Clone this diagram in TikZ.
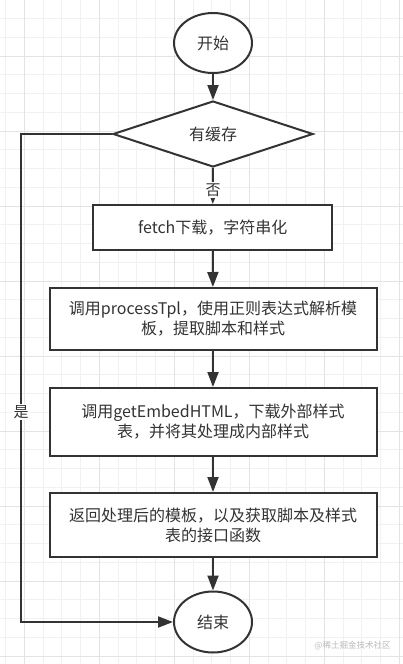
\documentclass[tikz,border=0pt]{standalone}
\usepackage{fontspec}
\setmainfont{Noto Sans CJK SC}
\usetikzlibrary{shapes.geometric,arrows.meta}
\definecolor{ink}{HTML}{333333}
\definecolor{gridminor}{HTML}{F1F1F1}
\definecolor{gridmajor}{HTML}{E3E3E3}
\definecolor{wm}{HTML}{BBBBBB}
\begin{document}
\begin{tikzpicture}[x=1pt,y=-1pt,
  flow/.style={draw=ink, line width=2pt, text=ink, fill=white,
    font=\fontsize{16}{20}\selectfont, align=center, inner sep=0pt},
  terminal/.style={flow, ellipse, minimum width=78pt, minimum height=60pt},
  decision/.style={flow, diamond, aspect=3, minimum width=200pt, minimum height=66pt},
  process/.style={flow, rectangle},
  link/.style={draw=ink, line width=2pt, -{Triangle[length=15pt,width=11pt]}},
  plain/.style={draw=ink, line width=2pt},
  lbl/.style={fill=white, text=ink, font=\fontsize{15}{18}\selectfont, inner sep=1.5pt}]

\useasboundingbox (0,0) rectangle (403,664);
\fill[white] (0,0) rectangle (403,664);
% grid
\foreach \i in {0,...,21} {\draw[gridminor, line width=0.8pt] ({5.55+\i*18.75},0) -- ({5.55+\i*18.75},664);}
\foreach \j in {0,...,35} {\draw[gridminor, line width=0.8pt] (0,{-0.25+\j*18.75}) -- (403,{-0.25+\j*18.75});}
\foreach \i in {0,...,5} {\draw[gridmajor, line width=0.8pt] ({24.3+\i*75},0) -- ({24.3+\i*75},664);}
\foreach \j in {0,...,8} {\draw[gridmajor, line width=0.8pt] (0,{56+\j*75}) -- (403,{56+\j*75});}

% nodes
\node[terminal] (start) at (213,43) {开始};
\node[decision] (dec) at (213,134) {有缓存};
\node[process, minimum width=239pt, minimum height=45pt] (b1) at (212.75,227.5) {fetch下载，字符串化};
\node[process, minimum width=327pt, minimum height=62pt] (b2) at (213,319) {调用processTpl，使用正则表达式解析模\\板，提取脚本和样式};
\node[process, minimum width=327pt, minimum height=68pt] (b3) at (213,422) {调用getEmbedHTML，下载外部样式\\表，并将其处理成内部样式};
\node[process, minimum width=327pt, minimum height=64pt] (b4) at (213,525) {返回处理后的模板，以及获取脚本及样式\\表的接口函数};
\node[terminal, minimum height=61pt] (end) at (213,622) {结束};

\coordinate (c1) at (21,134);
\coordinate (c2) at (21,622);

% connectors
\draw[link] (start) -- (dec);
\draw[link] (dec) -- (b1);
\draw[link] (b1) -- (b2);
\draw[link] (b2) -- (b3);
\draw[link] (b3) -- (b4);
\draw[link] (b4) -- (end);
\draw[link] (dec.west) -- (c1) -- (c2) -- (end.west);

% labels
\node[lbl] (no) at (213,190) {否};
\node[lbl] (yes) at (21,412) {是};

% watermark
\node[text=wm, font=\fontsize{8.5}{10}\selectfont, inner sep=0pt] (mark) at (352.5,646) {@稀土掘金技术社区};
\end{tikzpicture}
\end{document}
